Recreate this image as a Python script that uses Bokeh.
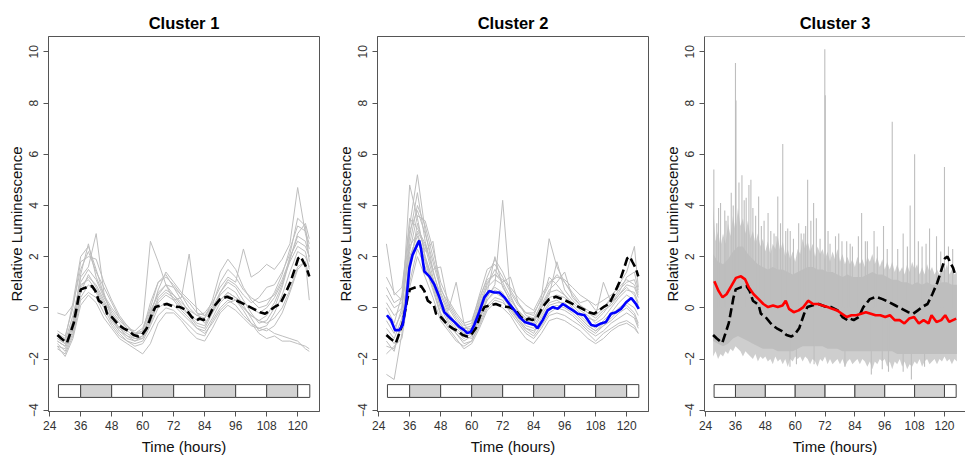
from bokeh.plotting import figure
from bokeh.layouts import row
from bokeh.models import FixedTicker, Span, Title
from bokeh.embed import file_html
from bokeh.resources import INLINE

# ---------------- data ----------------
x_ticks = [24, 36, 48, 60, 72, 84, 96, 108, 120]
y_ticks = [-4, -2, 0, 2, 4, 6, 8, 10]
titles = ["Cluster 1", "Cluster 2", "Cluster 3"]

# light/dark bar segments
ld_left = [27.4, 36, 48, 60, 72, 84, 96, 108, 120]
ld_right = [36, 48, 60, 72, 84, 96, 108, 120, 124.7]
ld_state = ["L", "D", "L", "D", "L", "D", "L", "D", "L"]

# overall mean (black dashed, same in every panel)
mean_t = [27, 28.5, 30.7, 33.3, 35.2, 36.1, 38.4, 40.4, 41.7, 43,
          45.3, 46.2, 48.1, 50.7, 52.6, 54.5, 56.5, 58.4, 59.7, 61.6,
          63.6, 64.9, 66.8, 69.4, 72, 74.5, 77.1, 79, 81, 82,
          83.5, 85.5, 87.4, 90, 92.6, 95.1, 97.7, 100.3, 102.9, 105.4,
          107.4, 109.3, 111.3, 113.2, 115.1, 117.1, 119, 120.2, 121.2, 122.2,
          123.5, 124.5]
mean_v = [-1.06, -1.2, -1.37, -0.6, 0.4, 0.72, 0.81, 0.85, 0.66, 0.28,
          0.11, -0.23, -0.36, -0.67, -0.8, -0.9, -1.06, -1.12, -1.06, -0.8,
          -0.23, 0.03, 0.09, 0.15, 0.05, 0.03, -0.1, -0.36, -0.48, -0.42,
          -0.48, -0.36, 0.03, 0.34, 0.43, 0.34, 0.22, 0.09, -0.04, -0.17,
          -0.23, -0.1, 0.05, 0.15, 0.53, 0.98, 1.55, 1.93, 2.0, 1.8,
          1.55, 1.23]

# cluster 2 mean (blue)
blue_t = [27.2, 28.8, 30.3, 32, 33.3, 34.6, 35.9, 37.1, 39.1, 39.7,
          40.4, 41.7, 43.6, 45.5, 47.5, 49.4, 51.3, 53.3, 55.2, 57.1,
          58.4, 59.7, 61, 62.9, 64.9, 66.8, 68.8, 70.7, 72.7, 74.6,
          76.6, 78.5, 80.5, 82.4, 84.3, 85.5, 87.5, 89.4, 91.4, 93.3,
          95.3, 97.2, 99.2, 101.1, 103.7, 106.3, 108.1, 110.1, 112, 113.9,
          115.9, 117.8, 119.8, 121.8, 123.6, 124.7]
blue_v = [-0.29, -0.48, -0.87, -0.87, -0.67, 0.15, 1.55, 2.06, 2.5, 2.63,
          2.3, 1.42, 1.23, 0.92, 0.41, -0.17, -0.36, -0.55, -0.74, -0.87,
          -0.99, -0.93, -0.67, -0.17, 0.41, 0.66, 0.6, 0.6, 0.41, 0.15,
          -0.1, -0.36, -0.55, -0.61, -0.67, -0.8, -0.48, -0.1, 0.03, -0.04,
          0.15, 0.03, -0.1, -0.23, -0.29, -0.67, -0.71, -0.61, -0.55, -0.23,
          -0.17, -0.04, 0.22, 0.38, 0.15, -0.04]

# cluster 3 mean (red)
red_t = [27.5, 29.2, 30.8, 32.4, 34.3, 36.2, 38.2, 39.9, 41.4, 43.3,
         45.3, 47.2, 49.1, 51.1, 53, 54.9, 56.2, 57.5, 59.4, 61.4,
         63.3, 65.2, 67.2, 69.1, 71, 73, 74.9, 76.8, 78.8, 80.7,
         82.6, 84.6, 86.5, 88.4, 90.4, 92.3, 94.2, 96.2, 98.1, 100,
         102, 103.9, 105.8, 107.8, 109.7, 111.6, 113.6, 114.8, 116.8, 118.7,
         120.3, 121.9, 124.7]
red_v = [1.04, 0.66, 0.41, 0.53, 0.85, 1.17, 1.23, 1.11, 0.79, 0.53,
         0.34, 0.15, 0.03, 0.09, 0.03, 0.09, 0.28, -0.04, -0.17, -0.1,
         0.03, 0.28, 0.15, 0.15, 0.09, 0.03, -0.04, -0.1, -0.23, -0.36,
         -0.29, -0.29, -0.23, -0.17, -0.23, -0.29, -0.29, -0.36, -0.29, -0.48,
         -0.48, -0.61, -0.42, -0.36, -0.61, -0.48, -0.61, -0.29, -0.55, -0.48,
         -0.29, -0.55, -0.42]

# sampling times of the individual grey traces
trace_t = [27, 30, 33, 36, 39, 42, 45, 48, 51, 54,
           57, 60, 63, 66, 69, 72, 75, 78, 81, 84,
           87, 90, 93, 96, 99, 102, 105, 108, 111, 114,
           117, 120, 123, 124.5]

c1_traces = [
    [-1.0, -1.2, 0.2, 2.0, 2.4, 1.5, 0.5, -0.2, -0.6, -0.9,
     -1.1, -0.9, 0.2, 1.0, 1.3, 0.8, 0.3, -0.2, -0.5, -0.4,
     0.3, 1.4, 1.9, 1.5, 0.8, 0.3, 0.0, 0.1, 0.6, 1.3,
     2.3, 3.2, 3.0, 2.5],
    [-1.3, -1.5, -0.6, 1.2, 1.6, 2.9, 0.6, -0.4, -0.8, -1.1,
     -1.3, -1.2, -0.5, 0.3, 0.6, 0.4, 0.0, -0.3, -0.7, -0.8,
     -0.2, 0.6, 1.0, 0.8, 0.3, -0.2, -0.6, -0.5, 0.0, 0.8,
     1.9, 2.8, 2.6, 2.0],
    [-1.5, -1.6, -0.9, 0.4, 0.9, 0.6, 0.0, -0.6, -1.0, -1.3,
     -1.4, -1.3, -0.7, 0.0, 0.2, 0.1, -0.2, -0.5, -0.8, -0.9,
     -0.4, 0.2, 0.5, 0.3, -0.1, -0.6, -1.0, -1.2, -1.1, -1.3,
     -1.3, -1.4, -1.5, -1.6],
    [-1.2, -1.4, -0.7, 0.8, 1.2, 0.9, 0.3, -0.3, -0.8, -1.0,
     -1.2, -1.1, -0.4, 0.4, 0.7, 0.5, 0.1, -0.3, -0.6, -0.7,
     -0.1, 0.5, 0.8, 0.6, 0.1, -0.4, -0.9, -0.8, -1.0, -1.1,
     -1.2, -1.3, -1.6, -1.7],
    [-0.2, -0.3, 0.1, 1.5, 2.2, 1.4, 0.8, 0.2, -0.4, -0.8,
     -1.0, -0.8, 0.0, 1.0, 1.2, 0.9, 0.5, 0.2, -0.2, -0.3,
     0.0, 0.6, 1.1, 0.9, 0.5, 0.2, 0.4, 0.8, 0.9, 1.4,
     2.1, 3.5, 3.2, 1.8],
    [-1.1, -1.3, -0.3, 1.0, 1.5, 1.1, 0.4, -0.1, -0.5, -0.8,
     -0.9, -0.6, 2.6, 1.8, 0.9, 0.5, 0.2, -0.1, -0.3, -0.4,
     0.0, 0.3, 0.6, 0.4, 0.2, 0.0, -0.2, 0.0, 0.4, 1.0,
     1.8, 2.4, 2.2, 1.5],
    [-1.4, -1.7, -1.0, 0.6, 1.3, 0.8, 0.2, -0.5, -0.9, -1.2,
     -1.3, -1.1, -0.2, 0.6, 0.9, 0.3, 0.4, 2.1, -0.2, -0.6,
     -0.2, 0.3, 0.6, 0.4, 0.0, -0.3, -0.5, -0.3, 0.2, 0.9,
     2.0, 2.6, 2.4, 2.0],
    [-1.2, -1.4, -0.5, 1.3, 2.5, 1.2, 0.5, 0.0, -0.4, -0.7,
     -1.0, -0.9, -0.1, 0.5, 0.9, 0.8, 0.5, 0.0, -0.3, -0.2,
     0.2, 0.8, 1.2, 1.0, 2.3, 1.2, 1.4, 1.7, 1.5, 1.9,
     2.5, 4.7, 2.9, 2.3],
    [-1.6, -1.8, -1.1, 0.3, 0.6, 0.4, -0.2, -0.7, -1.1, -1.3,
     -1.5, -1.4, -0.9, -0.3, 0.0, -0.1, -0.4, -0.7, -1.0, -1.1,
     -0.5, 0.0, 0.3, 0.1, -0.3, -0.6, -0.8, -0.7, -0.2, 0.5,
     1.4, 2.2, 2.0, 1.6],
    [-0.9, -1.1, 0.0, 1.8, 2.0, 1.9, 1.0, 0.3, -0.3, -0.7,
     -1.0, -1.0, -0.3, 0.7, 1.4, 1.0, 0.6, 0.3, 0.0, -0.3,
     0.1, 1.0, 1.5, 1.2, 0.7, 0.4, 0.2, 0.3, 0.5, 1.1,
     1.9, 2.9, 3.3, 2.7],
    [-1.3, -1.5, -0.8, 0.9, 1.1, 0.7, 0.1, -0.4, -0.9, -1.1,
     -1.2, -1.2, -0.6, 0.2, 0.5, 0.3, -0.1, -0.4, -0.8, -1.0,
     -0.6, -0.1, 0.2, 0.3, 0.0, -0.3, -0.5, -0.6, -0.4, 0.0,
     0.7, 1.6, 1.8, 0.3],
    [-1.5, -1.9, -1.2, 0.1, 0.5, 0.2, -0.4, -0.8, -1.2, -1.4,
     -1.6, -1.8, -1.4, -0.6, -0.2, -0.2, -0.5, -0.9, -1.2, -1.3,
     -0.8, -0.2, 0.1, -0.1, -0.4, -0.7, -0.8, -0.9, -0.7, -0.2,
     0.6, 1.5, 1.8, 1.2],
]

c2_traces = [
    [2.5, 0.5, 0.8, 3.2, 5.2, 3.0, 1.5, 0.3, -0.3, -0.7,
     -1.0, -0.8, 0.0, 0.9, 1.5, 1.0, 0.4, -0.1, -0.4, -0.5,
     0.2, 1.2, 0.9, 0.5, 0.1, -0.2, -0.4, -0.5, -0.2, 0.2,
     0.5, 0.9, 0.8, 0.4],
    [-2.6, -2.8, -1.0, 1.8, 3.0, 2.4, 1.2, 0.2, -0.5, -0.9,
     -1.2, -1.0, -0.2, 0.5, 0.8, 0.6, 0.0, -0.4, -0.8, -0.9,
     -0.5, 0.0, 0.1, 0.0, -0.2, -0.5, -0.8, -1.0, -0.7, -0.4,
     -0.1, 0.1, -0.2, -0.6],
    [-0.3, -0.8, -0.2, 4.8, 3.5, 2.0, 1.0, 0.0, -0.4, -0.8,
     -1.1, -1.2, -0.4, 0.4, 0.9, 4.2, 0.5, -0.2, -0.6, -0.7,
     -0.2, 0.4, 0.5, 0.4, 0.0, -0.3, -0.6, -0.8, -0.5, -0.2,
     0.2, 0.5, 0.3, 0.0],
    [1.2, 0.6, 0.3, 2.5, 4.0, 3.2, 2.0, 0.8, 0.0, -0.5,
     -0.8, -0.7, 0.3, 1.2, 1.9, 1.4, 0.7, 0.2, -0.2, -0.3,
     0.4, 2.7, 1.6, 1.0, 0.5, 0.1, -0.2, -0.3, 0.0, 0.4,
     0.9, 1.4, 2.4, 0.8],
    [-1.5, -1.6, -0.6, 2.0, 2.8, 1.8, 0.8, -0.2, -0.7, -1.0,
     -1.4, -1.3, -0.6, 0.1, 0.4, 0.3, -0.2, -0.6, -1.0, -1.2,
     -0.8, -0.3, -0.2, -0.3, -0.5, -0.7, -1.0, -1.3, -1.0, -0.8,
     -0.6, -0.5, -0.7, -1.0],
    [0.2, -0.3, 0.0, 2.8, 4.5, 2.6, 1.4, 0.5, -0.2, -0.6,
     -0.9, -0.9, 0.1, 0.8, 1.1, 0.9, 0.2, -0.3, -0.5, -0.6,
     0.0, 0.6, 0.7, 0.5, 0.2, -0.1, -0.3, -0.6, -0.4, 0.0,
     0.4, 0.7, 0.6, 0.2],
    [-0.8, -1.2, -0.4, 1.5, 3.3, 2.2, 2.6, 0.6, -0.1, 1.0,
     -0.6, -1.1, -0.5, 0.3, 0.7, 0.5, 0.1, -0.3, -0.7, -0.8,
     -0.3, 0.2, 0.3, 0.1, -0.1, -0.4, -0.7, -0.9, -0.7, -0.5,
     -0.2, 0.0, -0.3, -0.7],
    [-1.0, -1.4, -0.8, 1.0, 2.3, 1.6, 0.7, -0.3, -0.8, -1.2,
     -1.6, -1.4, -0.8, -0.1, 0.2, 0.0, -0.3, -0.8, -1.2, -1.4,
     -1.0, -0.5, -0.4, -0.5, -0.7, -0.9, -1.2, -1.4, -1.2, -0.9,
     -0.7, -0.6, -0.8, -1.0],
    [0.8, 0.2, 0.4, 3.0, 3.8, 2.9, 1.8, 0.7, 0.2, -0.3,
     -0.7, -0.6, 0.5, 1.5, 1.7, 1.2, 0.6, 0.1, -0.2, -0.2,
     0.3, 0.9, 1.3, 1.0, 0.6, 0.2, 0.3, -0.1, 0.0, 0.3,
     0.7, 1.0, 1.1, 0.6],
    [-0.5, -1.0, 0.0, 2.4, 2.9, 2.0, 1.1, 0.3, -0.3, -0.7,
     -1.0, -1.0, -0.3, 0.6, 2.0, 0.8, 0.3, -0.1, -0.5, -0.5,
     0.0, 0.5, 1.8, 0.7, 0.3, 0.0, -0.2, -0.4, -0.1, 0.1,
     0.5, 0.8, 0.5, 0.1],
    [-1.8, -1.5, -1.2, 0.8, 2.0, 1.2, 0.4, -0.5, -0.9, -1.3,
     -1.5, -1.3, -0.7, 0.0, 0.3, 0.2, -0.1, -0.5, -0.9, -1.1,
     -0.7, -0.2, 0.0, -0.1, -0.3, -0.6, -0.9, -1.1, -0.9, -0.6,
     -0.4, -0.2, -0.4, -0.8],
    [0.0, -0.6, 0.5, 3.5, 3.1, 2.5, 1.5, 1.6, 0.1, -0.4,
     -0.8, -0.8, 0.2, 1.0, 1.3, 1.0, 1.2, 0.2, -0.3, -0.4,
     0.1, 0.7, 1.0, 1.4, 0.4, 0.1, -0.1, -0.3, 1.0, 0.2,
     0.6, 1.2, 1.4, 0.7],
    [-1.3, -1.7, -0.5, 1.9, 2.6, 1.9, 0.9, 0.0, -0.6, -1.0,
     -1.3, -1.1, -0.4, 0.3, 0.6, 0.4, 0.0, -0.5, -0.8, -1.0,
     -0.4, 0.1, 0.2, 0.2, -0.1, -0.4, -0.7, -0.9, -0.6, -0.3,
     0.0, 0.2, 0.0, -0.3],
    [0.5, 0.0, 0.2, 2.2, 3.6, 3.4, 2.3, 1.0, 0.3, -0.2,
     -0.6, -0.5, 0.4, 1.1, 1.3, 1.1, 0.8, 0.4, 0.1, -0.1,
     0.5, 1.0, 1.2, 1.1, 0.8, 0.5, 0.3, 0.1, 0.3, 0.5,
     0.8, 1.1, 0.9, 0.5],
]

# cluster 3: hundreds of traces -> dense core, jagged envelope, spikes
core_t = [27, 29, 31, 33, 35, 37, 39, 41, 43, 45,
          47, 49, 51, 53, 55, 57, 59, 61, 63, 65,
          67, 69, 71, 73, 75, 77, 79, 81, 83, 85,
          87, 89, 91, 93, 95, 97, 99, 101, 103, 105,
          107, 109, 111, 113, 115, 117, 119, 121, 123, 125]
core_hi = [2.1, 1.8, 1.7, 1.9, 2.2, 2.4, 2.4, 2.1, 1.9, 1.7,
           1.6, 1.5, 1.6, 1.5, 1.5, 1.4, 1.3, 1.4, 1.5, 1.6,
           1.6, 1.5, 1.5, 1.4, 1.4, 1.3, 1.2, 1.3, 1.2, 1.2,
           1.2, 1.3, 1.4, 1.3, 1.3, 1.2, 1.1, 1.1, 1.0, 1.0,
           0.9, 1.0, 0.9, 1.0, 0.9, 0.9, 1.0, 1.0, 0.9, 0.9]
core_lo = [-1.3, -1.4, -1.5, -1.4, -1.2, -1.1, -1.2, -1.3, -1.4, -1.5,
           -1.6, -1.6, -1.6, -1.7, -1.7, -1.7, -1.7, -1.6, -1.5, -1.5,
           -1.5, -1.5, -1.5, -1.6, -1.6, -1.6, -1.7, -1.7, -1.7, -1.7,
           -1.7, -1.7, -1.7, -1.7, -1.7, -1.7, -1.7, -1.8, -1.8, -1.8,
           -1.8, -1.8, -1.8, -1.8, -1.8, -1.8, -1.8, -1.8, -1.8, -1.8]
env_t = [27, 28, 29, 30, 31, 32, 33, 34, 35, 36,
         37, 38, 39, 40, 41, 42, 43, 44, 45, 46,
         47, 48, 49, 50, 51, 52, 53, 54, 55, 56,
         57, 58, 59, 60, 61, 62, 63, 64, 65, 66,
         67, 68, 69, 70, 71, 72, 73, 74, 75, 76,
         77, 78, 79, 80, 81, 82, 83, 84, 85, 86,
         87, 88, 89, 90, 91, 92, 93, 94, 95, 96,
         97, 98, 99, 100, 101, 102, 103, 104, 105, 106,
         107, 108, 109, 110, 111, 112, 113, 114, 115, 116,
         117, 118, 119, 120, 121, 122, 123, 124, 125]
env_hi = [4.0, 2.6, 3.0, 2.4, 2.9, 2.5, 3.3, 2.8, 3.6, 3.0,
          3.9, 3.2, 3.5, 2.9, 3.4, 2.7, 3.0, 2.5, 2.9, 2.4,
          2.7, 2.2, 2.6, 2.1, 2.5, 2.3, 2.8, 2.2, 2.6, 2.0,
          2.3, 1.9, 2.2, 1.8, 2.3, 2.1, 2.7, 2.3, 2.6, 2.2,
          2.5, 2.0, 2.4, 2.1, 2.3, 1.9, 2.2, 1.8, 2.2, 1.9,
          2.3, 1.8, 2.1, 1.7, 2.0, 1.7, 1.9, 1.6, 2.0, 1.7,
          1.9, 1.6, 2.0, 1.8, 2.1, 1.7, 2.0, 1.6, 1.9, 1.5,
          1.8, 1.5, 1.8, 1.4, 1.7, 1.4, 1.6, 1.3, 1.7, 1.4,
          1.8, 1.5, 1.7, 1.3, 1.6, 1.3, 1.7, 1.4, 1.6, 1.3,
          1.5, 1.3, 1.6, 1.4, 1.7, 1.3, 1.5, 1.3, 1.4]
env_lo = [-1.9, -1.7, -2.0, -1.8, -1.9, -1.7, -1.8, -1.6, -1.7, -1.5,
          -1.6, -1.7, -1.9, -1.7, -1.8, -1.9, -2.0, -1.8, -2.1, -1.9,
          -2.0, -1.9, -2.1, -2.0, -2.2, -1.9, -2.1, -2.0, -2.2, -2.0,
          -2.3, -2.0, -2.1, -1.9, -2.0, -1.9, -2.1, -1.9, -2.0, -2.2,
          -2.0, -2.1, -2.3, -2.0, -2.1, -1.9, -2.2, -2.0, -2.2, -2.1,
          -2.0, -2.2, -2.0, -2.3, -2.1, -2.0, -2.2, -2.1, -2.0, -2.2,
          -2.0, -2.1, -2.3, -2.1, -2.4, -2.1, -2.2, -2.0, -2.1, -2.0,
          -2.3, -2.1, -2.4, -2.1, -2.2, -2.0, -2.3, -2.1, -2.4, -2.2,
          -2.3, -2.1, -2.2, -2.0, -2.3, -2.1, -2.0, -2.2, -2.1, -2.0,
          -2.2, -2.0, -2.1, -1.9, -2.1, -2.0, -2.2, -2.0, -2.1]
spike_t = [27.3, 30.0, 31.7, 34.3, 36.0, 36.2, 38.6, 41.4, 45.3, 49.1,
           53.0, 55.0, 58.0, 61.4, 65.0, 68.5, 71.9, 72.1, 76.2, 80.7,
           86.7, 91.7, 95.5, 99.0, 103.4, 106.2, 108.0, 114.0, 116.8, 120.0,
           28.5, 33.0, 39.5, 43.0, 47.5, 51.5, 57.0, 63.5, 70.0, 74.0,
           83.0, 89.0, 97.0, 111.0, 118.5, 29.2, 32.2, 35.1, 37.4, 40.3,
           42.2, 44.1, 46.4, 50.2, 52.3, 54.1, 56.2, 59.3, 62.4, 64.2,
           66.3, 67.4, 73.2, 77.5, 78.8, 82.1, 85.4, 88.2, 93.0, 101.2,
           105.1, 109.5, 112.6, 121.6, 123.3]
spike_top = [5.4, 4.1, 3.8, 4.5, 9.56, 8.1, 5.18, 4.8, 4.35, 3.7,
             4.35, 6.4, 3.0, 3.3, 5.0, 3.5, 10.1, 8.3, 2.8, 2.6,
             3.7, 3.0, 3.2, 7.27, 2.9, 4.0, 6.0, 3.1, 2.8, 5.5,
             3.3, 3.6, 4.2, 3.9, 3.4, 2.9, 3.1, 2.9, 2.7, 2.5,
             2.4, 2.6, 2.3, 2.4, 2.2, 3.9, 3.4, 4.0, 4.9, 4.3,
             5.0, 3.6, 3.2, 3.0, 2.8, 3.3, 3.0, 2.7, 2.9, 3.2,
             3.4, 4.1, 3.0, 2.9, 2.6, 2.5, 2.8, 2.6, 2.4, 2.3,
             2.4, 2.6, 2.5, 2.4, 2.3]
dip_t = [57.9, 67.6, 90.6, 103.4, 106.7, 97.5, 80.0, 60.5, 95.0, 112.0]
dip_bottom = [-2.3, -2.2, -2.6, -2.5, -2.8, -2.5, -2.3, -2.2, -2.4, -2.3]

# ---------------- layout ----------------
X_RANGE = (23.55, 128.45)
Y_RANGE = (-4.05, 10.6)
FONT = "Liberation Sans"
GREY = "#BEBEBE"
FRAME = "#555555"


def make_fig(idx, width, right_border):
    p = figure(width=width, height=457, x_range=X_RANGE, y_range=Y_RANGE,
               output_backend="svg", toolbar_location=None,
               min_border_left=48, min_border_right=right_border,
               min_border_top=36, min_border_bottom=36)
    # small spacer closest to the frame, then the visible title above it
    p.title.text = " "
    p.title.text_font_size = "3px"
    p.title.standoff = 0
    p.add_layout(Title(text=titles[idx], align="center", text_font=FONT,
                       text_font_size="16.5px", text_font_style="bold",
                       text_color="#000000"), "above")
    p.xgrid.visible = False
    p.ygrid.visible = False
    p.outline_line_color = FRAME
    p.outline_line_width = 1
    p.background_fill_color = "white"
    p.border_fill_color = "white"

    p.xaxis.ticker = FixedTicker(ticks=x_ticks)
    p.yaxis.ticker = FixedTicker(ticks=y_ticks)
    for ax in (p.xaxis, p.yaxis):
        ax.axis_line_color = FRAME
        ax.major_tick_line_color = FRAME
        ax.minor_tick_line_color = None
        ax.major_tick_out = 5
        ax.major_tick_in = 0
        ax.major_label_text_font = FONT
        ax.major_label_text_font_size = "12px"
        ax.major_label_text_color = "#333333"
        ax.axis_label_text_font = FONT
        ax.axis_label_text_font_size = "15px"
        ax.axis_label_text_font_style = "normal"
        ax.axis_label_text_color = "#111111"
    p.xaxis.axis_label = "Time (hours)"
    p.yaxis.axis_label = "Relative Luminescence"
    p.xaxis.major_label_standoff = 4
    p.xaxis.axis_label_standoff = 5
    p.yaxis.major_label_standoff = 5
    p.yaxis.axis_label_standoff = 2
    p.yaxis.major_label_orientation = "parallel"
    return p


def add_ld_bar(p):
    colors = ["white" if s == "L" else "#D3D3D3" for s in ld_state]
    p.quad(left=ld_left, right=ld_right, bottom=-3.5, top=-3.0,
           fill_color=colors, line_color="#444444", line_width=1)


def add_mean(p):
    p.line(mean_t, mean_v, line_color="black", line_width=2.6,
           line_dash="9 4")


p1 = make_fig(0, 329, 10)
p1.multi_line(xs=[trace_t] * len(c1_traces), ys=c1_traces,
              line_color=GREY, line_width=1)
add_ld_bar(p1)
add_mean(p1)

p2 = make_fig(1, 327, 8)
p2.multi_line(xs=[trace_t] * len(c2_traces), ys=c2_traces,
              line_color=GREY, line_width=1)
add_ld_bar(p2)
add_mean(p2)
p2.line(blue_t, blue_v, line_color="#0000FF", line_width=2.6)

p3 = make_fig(2, 309, 0)
p3.outline_line_color = None
p3.add_layout(Span(location=Y_RANGE[1], dimension="width",
                   line_color=FRAME, line_width=1))
p3.varea(x=env_t, y1=env_lo, y2=env_hi, fill_color=GREY, fill_alpha=0.75)
p3.varea(x=core_t, y1=core_lo, y2=core_hi, fill_color=GREY, fill_alpha=1.0)
p3.segment(x0=spike_t, y0=[0] * len(spike_t), x1=spike_t, y1=spike_top,
           line_color=GREY, line_width=1.1)
p3.segment(x0=dip_t, y0=[0] * len(dip_t), x1=dip_t, y1=dip_bottom,
           line_color=GREY, line_width=1.1)
add_ld_bar(p3)
add_mean(p3)
p3.line(red_t, red_v, line_color="#FF0000", line_width=2.6)

layout = row(p1, p2, p3)
open("out.html", "w").write(file_html(layout, INLINE))
